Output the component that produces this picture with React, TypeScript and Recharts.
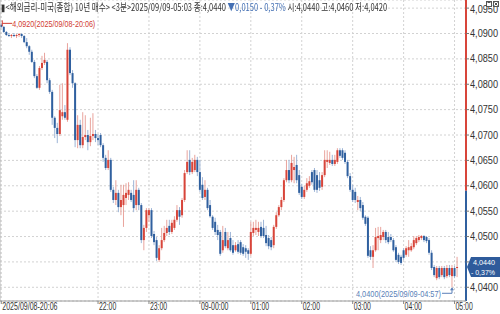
import React, { useLayoutEffect, useRef, useState } from 'react';
import {
  ComposedChart,
  Bar,
  XAxis,
  YAxis,
  CartesianGrid,
  ReferenceLine,
  ReferenceDot,
} from 'recharts';

// 3-minute bars from 2025/09/08 20:06 to 2025/09/09 05:03
const START_MIN = 20 * 60 + 6;
const TIMES: string[] = Array.from({ length: 180 }, (_, i) => {
  const m = (START_MIN + i * 3) % 1440;
  return `${String(Math.floor(m / 60)).padStart(2, '0')}:${String(m % 60).padStart(2, '0')}`;
});

// prices, one row of 10 bars per line
const OPEN = [
  4.0917, 4.0913, 4.0903, 4.0897, 4.0895, 4.0897, 4.0895, 4.0897, 4.0899, 4.0895,
  4.0883, 4.0875, 4.0864, 4.0844, 4.0816, 4.0793, 4.0832, 4.0842, 4.0844, 4.0808,
  4.0785, 4.0734, 4.0714, 4.0702, 4.0737, 4.0745, 4.073, 4.0868, 4.0822, 4.0802,
  4.069, 4.072, 4.068, 4.0696, 4.07, 4.0686, 4.0698, 4.0702, 4.0694, 4.07,
  4.068, 4.0655, 4.0635, 4.0651, 4.0592, 4.0572, 4.0586, 4.0558, 4.0562, 4.0576,
  4.0582, 4.0586, 4.0582, 4.0562, 4.0592, 4.0562, 4.0493, 4.0517, 4.0542, 4.0552,
  4.0505, 4.0493, 4.0454, 4.0477, 4.0493, 4.0507, 4.0521, 4.0509, 4.0517, 4.0533,
  4.0552, 4.0542, 4.0572, 4.0627, 4.0651, 4.0627, 4.0631, 4.0651, 4.0627, 4.0602,
  4.0578, 4.0592, 4.0562, 4.0539, 4.0529, 4.0513, 4.0509, 4.0473, 4.0509, 4.0477,
  4.0497, 4.0483, 4.0473, 4.0485, 4.0489, 4.0479, 4.0477, 4.0473, 4.0466, 4.0507,
  4.0513, 4.0509, 4.0519, 4.0517, 4.0503, 4.0497, 4.0493, 4.0483, 4.0519, 4.0542,
  4.0558, 4.0572, 4.0611, 4.0631, 4.0611, 4.0631, 4.0641, 4.0621, 4.0598, 4.0578,
  4.0592, 4.06, 4.0627, 4.0631, 4.0621, 4.0611, 4.0598, 4.0621, 4.0647, 4.0645,
  4.0651, 4.0643, 4.0647, 4.067, 4.067, 4.0665, 4.0647, 4.0619, 4.0592, 4.0588,
  4.0568, 4.0572, 4.0562, 4.0539, 4.0537, 4.0473, 4.046, 4.0473, 4.0497, 4.0493,
  4.0499, 4.0509, 4.0499, 4.0499, 4.0493, 4.0479, 4.0464, 4.046, 4.0473, 4.0464,
  4.0473, 4.0473, 4.0479, 4.0487, 4.0493, 4.0497, 4.0501, 4.0499, 4.0493, 4.0468,
  4.044, 4.0418, 4.0438, 4.0424, 4.0438, 4.0422, 4.0438, 4.0422, 4.0438, 4.044,
];
const HIGH = [
  4.092, 4.0915, 4.0905, 4.0901, 4.0899, 4.0901, 4.0899, 4.0901, 4.0901, 4.0897,
  4.0891, 4.0877, 4.0868, 4.0848, 4.082, 4.0836, 4.0856, 4.0862, 4.0848, 4.0812,
  4.0789, 4.0737, 4.0724, 4.0799, 4.0802, 4.0759, 4.0881, 4.0873, 4.0828, 4.0804,
  4.0739, 4.073, 4.0745, 4.0739, 4.071, 4.0734, 4.0743, 4.071, 4.0702, 4.0704,
  4.0684, 4.0661, 4.067, 4.0655, 4.0598, 4.0611, 4.0592, 4.0602, 4.0602, 4.0605,
  4.0607, 4.0592, 4.0611, 4.0611, 4.0596, 4.0566, 4.0523, 4.0556, 4.0556, 4.0556,
  4.0511, 4.0499, 4.0483, 4.0517, 4.0521, 4.0533, 4.0533, 4.0533, 4.054, 4.0562,
  4.0558, 4.0576, 4.0631, 4.067, 4.067, 4.0655, 4.0661, 4.0657, 4.0651, 4.0617,
  4.0611, 4.0596, 4.0572, 4.0542, 4.0537, 4.0523, 4.0513, 4.0521, 4.0517, 4.0509,
  4.0509, 4.0493, 4.0489, 4.0493, 4.0493, 4.0485, 4.0483, 4.0477, 4.0529, 4.0529,
  4.0533, 4.0529, 4.0529, 4.0533, 4.0521, 4.0503, 4.0499, 4.0523, 4.0548, 4.0562,
  4.0578, 4.0615, 4.0651, 4.0651, 4.0661, 4.0657, 4.0661, 4.0631, 4.0604, 4.06,
  4.0615, 4.0619, 4.0631, 4.0635, 4.0631, 4.0627, 4.0627, 4.067, 4.067, 4.0667,
  4.0661, 4.0661, 4.0674, 4.0674, 4.0674, 4.067, 4.0651, 4.0625, 4.0602, 4.0596,
  4.058, 4.0578, 4.0568, 4.0542, 4.054, 4.0481, 4.0483, 4.0517, 4.0519, 4.0519,
  4.0513, 4.0513, 4.0509, 4.0505, 4.0497, 4.0483, 4.0468, 4.0464, 4.0477, 4.0481,
  4.0493, 4.0487, 4.0501, 4.0501, 4.0503, 4.0503, 4.0503, 4.0501, 4.0497, 4.0473,
  4.0444, 4.0442, 4.0442, 4.0442, 4.0442, 4.0444, 4.0444, 4.0444, 4.0442, 4.046,
];
const LOW = [
  4.0911, 4.0901, 4.0895, 4.0893, 4.0891, 4.0893, 4.0891, 4.0893, 4.0891, 4.0881,
  4.0871, 4.0858, 4.0842, 4.0812, 4.0791, 4.0789, 4.0828, 4.0838, 4.0802, 4.0781,
  4.072, 4.0694, 4.0684, 4.0698, 4.073, 4.073, 4.0726, 4.0818, 4.0793, 4.0676,
  4.0674, 4.0674, 4.0674, 4.069, 4.067, 4.0678, 4.069, 4.0686, 4.068, 4.0676,
  4.0647, 4.0631, 4.0631, 4.0588, 4.0566, 4.0562, 4.0548, 4.0542, 4.0519, 4.0562,
  4.0572, 4.0568, 4.0548, 4.0552, 4.0552, 4.0487, 4.0473, 4.0509, 4.0529, 4.0497,
  4.0483, 4.0452, 4.045, 4.0473, 4.0489, 4.0501, 4.0503, 4.0505, 4.0513, 4.0529,
  4.0523, 4.0537, 4.0568, 4.0623, 4.0621, 4.0623, 4.0627, 4.0619, 4.0588, 4.0572,
  4.0572, 4.0552, 4.0537, 4.0513, 4.0503, 4.0493, 4.0462, 4.0468, 4.0477, 4.0473,
  4.047, 4.0464, 4.047, 4.0466, 4.0464, 4.0462, 4.0458, 4.0454, 4.0462, 4.0501,
  4.0503, 4.0501, 4.0497, 4.0497, 4.0481, 4.0475, 4.0473, 4.0477, 4.0515, 4.0539,
  4.0552, 4.0568, 4.0607, 4.0605, 4.0607, 4.0605, 4.0605, 4.0582, 4.0574, 4.0574,
  4.0588, 4.0596, 4.0602, 4.0588, 4.0586, 4.059, 4.0592, 4.0617, 4.0635, 4.0641,
  4.0639, 4.0639, 4.0643, 4.0655, 4.0651, 4.0643, 4.0615, 4.0588, 4.0568, 4.0566,
  4.0552, 4.055, 4.0533, 4.0521, 4.0458, 4.0454, 4.0438, 4.047, 4.0473, 4.0487,
  4.0493, 4.0487, 4.0485, 4.0489, 4.047, 4.045, 4.0446, 4.0444, 4.0454, 4.046,
  4.046, 4.047, 4.0475, 4.0483, 4.0489, 4.0493, 4.0489, 4.0487, 4.0464, 4.0434,
  4.042, 4.0414, 4.0416, 4.042, 4.0416, 4.0418, 4.042, 4.04, 4.0418, 4.042,
];
const CLOSE = [
  4.0913, 4.0903, 4.0897, 4.0895, 4.0897, 4.0895, 4.0897, 4.0899, 4.0895, 4.0883,
  4.0875, 4.0864, 4.0844, 4.0816, 4.0793, 4.0832, 4.0842, 4.0848, 4.0808, 4.0785,
  4.0734, 4.0714, 4.0702, 4.0749, 4.0745, 4.0734, 4.0868, 4.0822, 4.0802, 4.069,
  4.072, 4.068, 4.0696, 4.07, 4.0686, 4.0698, 4.0702, 4.0694, 4.069, 4.068,
  4.0655, 4.0635, 4.0651, 4.0592, 4.0572, 4.0586, 4.0558, 4.0572, 4.0582, 4.0586,
  4.0592, 4.0572, 4.0556, 4.0592, 4.0562, 4.0493, 4.0517, 4.0552, 4.0552, 4.0501,
  4.0489, 4.0458, 4.0477, 4.0493, 4.0507, 4.0517, 4.0509, 4.0527, 4.0533, 4.0552,
  4.0539, 4.0572, 4.0625, 4.0647, 4.0627, 4.0647, 4.0651, 4.0627, 4.0592, 4.0576,
  4.0592, 4.0556, 4.054, 4.0517, 4.0509, 4.0503, 4.0466, 4.0493, 4.0481, 4.0493,
  4.0473, 4.0468, 4.0483, 4.047, 4.0468, 4.0466, 4.047, 4.0466, 4.0509, 4.0517,
  4.0517, 4.0517, 4.0501, 4.0501, 4.0487, 4.0481, 4.0479, 4.0519, 4.0542, 4.0558,
  4.0572, 4.0611, 4.0631, 4.0611, 4.0645, 4.0637, 4.0611, 4.0586, 4.0578, 4.0592,
  4.0605, 4.0609, 4.0607, 4.0592, 4.0592, 4.0596, 4.0621, 4.0651, 4.0651, 4.0651,
  4.0643, 4.0651, 4.067, 4.0659, 4.0655, 4.0647, 4.0619, 4.0592, 4.0572, 4.0572,
  4.0572, 4.0556, 4.0537, 4.0525, 4.0462, 4.046, 4.0473, 4.0499, 4.0501, 4.0503,
  4.0509, 4.0493, 4.0489, 4.0493, 4.0473, 4.0454, 4.045, 4.0448, 4.0458, 4.0477,
  4.0479, 4.0481, 4.0493, 4.0497, 4.0499, 4.0501, 4.0493, 4.0491, 4.0468, 4.0438,
  4.0424, 4.0438, 4.042, 4.0438, 4.042, 4.0438, 4.0424, 4.0438, 4.0422, 4.044,
];

const PADS = ['pad1', 'pad2', 'pad3'];
const X_TICKS = ['20:06', '22:00', '23:00', '00:00', '01:00', '02:00', '03:00', '04:00', '05:00'];
const X_LABELS: Record<string, string> = { '20:06': '2025/09/08-20:06', '00:00': '09-00:00' };
const Y_TICKS = [4.04, 4.045, 4.05, 4.055, 4.06, 4.065, 4.07, 4.075, 4.08, 4.085, 4.09, 4.095];
const Y_DOMAIN: [number, number] = [4.0373, 4.0966];
const PREV_CLOSE = 4.059;
const LAST = 4.044;
const LAST_PCT = '- 0,37%';
const HIGH_MARK = { t: '20:06', v: 4.092, label: '4,0920(2025/09/08-20:06)' };
const LOW_MARK = { t: '04:57', v: 4.04, label: '4,0400(2025/09/09-04:57)' };
const HEADER_LEFT = '▮<해외금리-미국(종합) 10년 매수> <3분>2025/09/09-05:03 종:4,0440 ';
const HEADER_CHANGE = '▼0,0150 - 0,37%';
const HEADER_RIGHT = ' 시:4,0440 고:4,0460 저:4,0420';
const HEADER_WIDTH = 386;

const UP = '#d8453a';
const UP_WICK = '#e9a49d';
const DOWN = '#30609f';
const DOWN_WICK = '#9db4d6';
const FONT = '"Noto Sans CJK KR", "Liberation Sans", sans-serif';
const NUM_FONT = '"Liberation Sans", sans-serif';

const fmt = (v: number) => v.toFixed(4).replace('.', ',');

const data: any[] = TIMES.map((t, i) => ({ t, o: OPEN[i], h: HIGH[i], l: LOW[i], c: CLOSE[i] })).concat(
  PADS.map((t) => ({ t }))
);

function Candle(props: any) {
  const { x, y, width, height, payload } = props;
  if (!payload || payload.h == null) return null;
  const { o, h, l, c } = payload;
  const up = c >= o;
  const top = height < 0 ? y + height : y;
  const hh = Math.abs(height);
  const ppu = hh / (h - l || 1);
  const bTop = top + (h - Math.max(o, c)) * ppu;
  const bBot = top + (h - Math.min(o, c)) * ppu;
  const cx = x + width / 2;
  return (
    <g>
      <line x1={cx} x2={cx} y1={top} y2={top + hh} stroke={up ? UP_WICK : DOWN_WICK} strokeWidth={1} />
      <rect x={x} y={bTop} width={width} height={Math.max(1, bBot - bTop)} fill={up ? UP : DOWN} />
    </g>
  );
}

function XTick(props: any) {
  const { x, y, payload } = props;
  const label = X_LABELS[payload.value] ?? payload.value;
  return (
    <text
      x={x + 1}
      y={y + 6}
      fontSize={10}
      fontFamily={NUM_FONT}
      fill="#333"
      textLength={label.length * 3.45}
      lengthAdjust="spacingAndGlyphs"
    >
      {label}
    </text>
  );
}

function YTick(props: any) {
  const { x, y, payload } = props;
  if (Math.abs(payload.value - 4.045) < 1e-6) return null; // hidden by price tag
  return (
    <text x={x} y={y + 3.5} fontSize={10} fontFamily={NUM_FONT} fill="#333" textLength={28} lengthAdjust="spacingAndGlyphs">
      {fmt(payload.value)}
    </text>
  );
}

function PriceTag(props: any) {
  const vb = props.viewBox;
  if (!vb) return null;
  const vx = vb.x + vb.width;
  const vy = vb.y;
  return (
    <g>
      <polygon
        points={`${vx + 1},${vy} ${vx + 5},${vy - 10} 500,${vy - 10} 500,${vy + 10} ${vx + 5},${vy + 10}`}
        fill="#2f5b9b"
      />
      <text x={vx + 7} y={vy - 2} fontSize={8} fontFamily={NUM_FONT} fill="#fff" textLength={22} lengthAdjust="spacingAndGlyphs">
        {fmt(LAST)}
      </text>
      <text x={vx + 5} y={vy + 8} fontSize={8} fontFamily={NUM_FONT} fill="#fff" textLength={24} lengthAdjust="spacingAndGlyphs">
        {LAST_PCT}
      </text>
    </g>
  );
}

function HighMark(props: any) {
  const { cx, cy } = props;
  return (
    <g>
      <line x1={cx + 1} y1={cy - 3} x2={cx + 1} y2={cy + 3} stroke="#d13b32" />
      <line x1={cx + 1} y1={cy} x2={cx + 11} y2={cy} stroke="#d13b32" />
      <text x={cx + 11} y={cy + 3.5} fontSize={9.5} fontFamily={NUM_FONT} fill="#d13b32" textLength={83} lengthAdjust="spacingAndGlyphs">
        {HIGH_MARK.label}
      </text>
    </g>
  );
}

function LowMark(props: any) {
  const { cx, cy } = props;
  const ly = cy + 6;
  return (
    <g>
      <polyline points={`${cx - 10},${ly} ${cx},${ly} ${cx},${cy + 1}`} fill="none" stroke="#5a7fb8" />
      <polygon points={`${cx - 2},${cy + 3} ${cx + 2},${cy + 3} ${cx},${cy}`} fill="#5a7fb8" />
      <text x={cx - 11} y={ly + 3.5} fontSize={9.5} fontFamily={NUM_FONT} fill="#5a7fb8" textAnchor="end" textLength={85} lengthAdjust="spacingAndGlyphs">
        {LOW_MARK.label}
      </text>
    </g>
  );
}

// header line squeezed horizontally to the width it has in the terminal
function Header() {
  const ref = useRef<HTMLDivElement>(null);
  const [scale, setScale] = useState(1);
  useLayoutEffect(() => {
    if (ref.current) setScale(HEADER_WIDTH / ref.current.scrollWidth);
  }, []);
  return (
    <div
      ref={ref}
      style={{
        position: 'absolute',
        left: 1,
        top: 0,
        whiteSpace: 'nowrap',
        fontFamily: FONT,
        fontSize: 10,
        lineHeight: '14px',
        color: '#333',
        transform: `scaleX(${scale})`,
        transformOrigin: '0 0',
        pointerEvents: 'none',
      }}
    >
      {HEADER_LEFT}
      <span style={{ color: '#4470b4' }}>{HEADER_CHANGE}</span>
      {HEADER_RIGHT}
    </div>
  );
}

export default function App() {
  return (
    <div style={{ position: 'fixed', left: 0, top: 0, width: 500, height: 314, background: '#fff' }}>
      <ComposedChart
        width={500}
        height={314}
        data={data}
        margin={{ top: 0, right: 0, bottom: 0, left: 0 }}
        barCategoryGap="10%"
      >
        <CartesianGrid stroke="#d2d2d2" strokeDasharray="2 2" />
        <XAxis
          dataKey="t"
          ticks={X_TICKS}
          interval={0}
          height={13}
          tickSize={3}
          tickMargin={0}
          tick={(p: any) => <XTick {...p} />}
          tickLine={{ stroke: '#888' }}
          axisLine={{ stroke: '#9a9a9a' }}
        />
        <YAxis
          orientation="right"
          width={34}
          domain={Y_DOMAIN}
          ticks={Y_TICKS}
          allowDataOverflow
          tickSize={3}
          tickMargin={1}
          tick={(p: any) => <YTick {...p} />}
          tickLine={{ stroke: '#777' }}
          axisLine={false}
        />
        <ReferenceLine x={TIMES[0]} position="start" stroke="#b5b5b5" ifOverflow="visible" />
        <Bar
          dataKey={(d: any) => (d.h == null ? null : [d.l, d.h])}
          shape={(p: any) => <Candle {...p} />}
          isAnimationActive={false}
        />
        <ReferenceLine
          segment={[{ x: PADS[2], y: PREV_CLOSE }, { x: PADS[2], y: Y_DOMAIN[1] }]}
          position="end"
          stroke="#d8453a"
          strokeWidth={2}
          ifOverflow="visible"
        />
        <ReferenceLine
          segment={[{ x: PADS[2], y: Y_DOMAIN[0] }, { x: PADS[2], y: PREV_CLOSE }]}
          position="end"
          stroke="#30609f"
          strokeWidth={2}
          ifOverflow="visible"
        />
        <ReferenceLine y={LAST} strokeOpacity={0} ifOverflow="visible" label={(p: any) => <PriceTag {...p} />} />
        <ReferenceDot x={HIGH_MARK.t} y={HIGH_MARK.v} r={0} ifOverflow="visible" shape={(p: any) => <HighMark {...p} />} />
        <ReferenceDot x={LOW_MARK.t} y={LOW_MARK.v} r={0} ifOverflow="visible" shape={(p: any) => <LowMark {...p} />} />
      </ComposedChart>
      <Header />
      <svg width={500} height={10} style={{ position: 'absolute', left: 0, top: 0, pointerEvents: 'none' }}>
        <rect x={486.5} y={1.5} width={5} height={5} fill="#fff" stroke="#555" />
        <rect x={487.5} y={1.5} width={3} height={1.5} fill="#555" />
        <rect x={493.5} y={1.5} width={5} height={5} fill="#fff" stroke="#555" />
        <line x1={494.5} y1={2.5} x2={497.5} y2={5.5} stroke="#555" />
        <line x1={497.5} y1={2.5} x2={494.5} y2={5.5} stroke="#555" />
      </svg>
    </div>
  );
}
